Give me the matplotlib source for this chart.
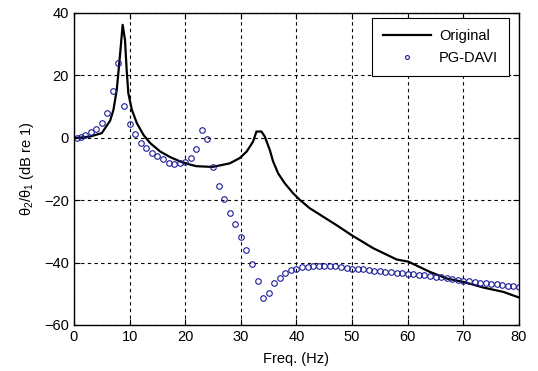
import matplotlib
matplotlib.use("Agg")
import matplotlib.pyplot as plt

# Original response
freq_orig = [0.2, 2.9, 5.0, 6.5, 7.1, 7.7, 8.3, 8.75, 9.17, 9.47, 9.77, 10.4, 11.3, 12.5,
             13.7, 15.5, 17.3, 19.1, 20.9, 22.0, 24.4, 25.0, 28.0, 29.8, 31.05, 32.2, 32.8,
             33.7, 34.3, 35.2, 35.8, 36.7, 37.9, 39.4, 40.6, 42.4, 44.8, 47.2, 49.9, 53.8,
             58.0, 60.1, 64.0, 67.0, 70.0, 73.6, 77.2, 80.0]
db_orig = [-0.1, 0.4, 1.5, 5.5, 9.0, 15.5, 27.0, 36.2, 31.4, 21.8, 14.3, 9.0, 4.7, 0.9,
           -1.7, -4.4, -6.2, -7.6, -8.6, -9.1, -9.3, -9.3, -8.2, -6.5, -4.4, -1.2, 2.0,
           2.0, 0.4, -3.9, -7.6, -11.4, -14.6, -17.8, -19.9, -22.6, -25.3, -28.0, -31.2, -35.4,
           -39.0, -39.7, -43.0, -45.1, -46.2, -48.0, -49.4, -51.2]

# PG-DAVI estimate (markers)
freq_pg = [0.5, 1.3, 2.0, 3.0, 4.0, 5.0, 6, 7, 8, 9, 10, 11, 12, 13, 14, 15, 16, 17, 18, 19,
           20, 21, 22, 23, 24, 25, 26, 27, 28, 29, 30, 31, 32, 33, 34, 35, 36, 37, 38, 39,
           40, 41, 42, 43, 44, 45, 46, 47, 48, 49, 50, 51, 52, 53, 54, 55, 56, 57, 58, 59,
           60, 61, 62, 63, 64, 65, 66, 67, 68, 69, 70, 71, 72, 73, 74, 75, 76, 77, 78, 79, 80]
db_pg = [-0.1, 0.3, 0.8, 1.8, 2.8, 4.8, 8.0, 14.9, 24.1, 10.1, 4.3, 1.1, -1.7, -3.2, -4.9,
         -5.7, -6.8, -8.1, -8.4, -8.2, -7.7, -6.5, -3.6, 2.4, -0.3, -9.3, -15.3, -19.7,
         -24.1, -27.7, -31.7, -36.1, -40.5, -46.0, -51.3, -49.6, -46.4, -44.8, -43.4, -42.4,
         -41.9, -41.5, -41.3, -41.1, -41.0, -41.0, -41.1, -41.2, -41.4, -41.6, -41.9, -42.1,
         -42.2, -42.4, -42.6, -42.7, -42.9, -43.1, -43.2, -43.4, -43.5, -43.7, -43.9, -44.1,
         -44.3, -44.5, -44.7, -45.0, -45.2, -45.5, -45.8, -46.0, -46.2, -46.4, -46.6, -46.8,
         -47.0, -47.2, -47.4, -47.6, -47.8]

plt.rcParams['font.family'] = ['Liberation Sans', 'DejaVu Sans']
plt.rcParams['mathtext.fontset'] = 'custom'
plt.rcParams['mathtext.rm'] = 'Liberation Sans'
plt.rcParams['mathtext.it'] = 'Liberation Sans'

fig = plt.figure(figsize=(5.38, 3.71), dpi=100)
ax = fig.add_axes([0.1375, 0.124, 0.8272, 0.841])

ax.plot(freq_orig, db_orig, '-', color='black', lw=1.6, label='Original')
ax.plot(freq_pg, db_pg, 'o', mfc='none', mec='#1c1c96', ms=4.0, mew=0.8,
        label='PG-DAVI', ls='none')

ax.set_xlim(0, 80)
ax.set_ylim(-60, 40)
ax.set_xticks(range(0, 81, 10))
ax.set_yticks(range(-60, 41, 20))
ax.grid(True, color='black', ls=(0, (3, 3)), lw=0.8)
ax.tick_params(direction='in', top=True, right=True, labelsize=10.5, length=4, width=0.8)
for s in ax.spines.values():
    s.set_linewidth(1.0)

ax.set_xlabel('Freq. (Hz)', fontsize=10.5, labelpad=6)
ax.set_ylabel(r'$\theta_2/\theta_1$ (dB re 1)', fontsize=10.5, labelpad=6)

leg = ax.legend(loc='upper right', bbox_to_anchor=(0.9775, 0.984), borderaxespad=0,
                fontsize=10.5, fancybox=False, framealpha=1, edgecolor='black',
                handlelength=3.3, handletextpad=0.55, markerscale=0.7,
                borderpad=0.75, labelspacing=0.55)
leg.get_frame().set_linewidth(0.8)

fig.savefig('out.png', dpi=100)
